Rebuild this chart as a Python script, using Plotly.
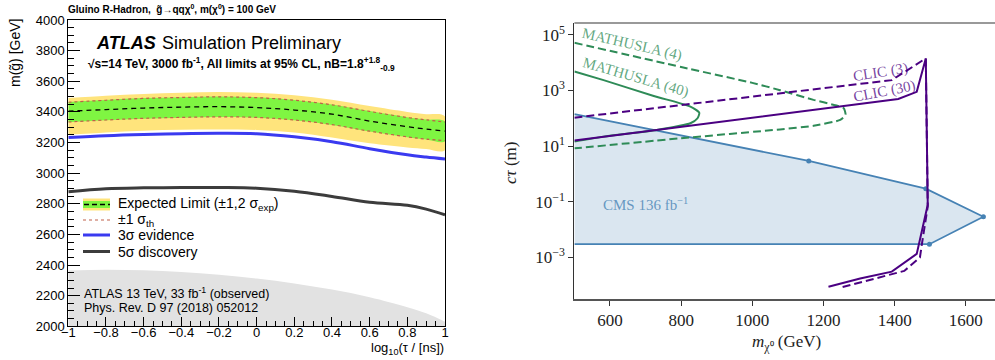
import plotly.graph_objects as go

W, H = 995, 360
def fx(p): return p / W
def fy(p): return 1 - p / H

# ================= Left panel data (ATLAS gluino R-hadron) =================
log_tau = [-1.0, -0.8, -0.6, -0.4, -0.2, 0.0, 0.2, 0.4, 0.6, 0.8, 0.9, 1.0]
expected      = [3405, 3415, 3425, 3431, 3434, 3428, 3412, 3385, 3340, 3303, 3288, 3275]
exp_1s_up     = [3465, 3478, 3490, 3496, 3500, 3495, 3478, 3448, 3405, 3365, 3350, 3336]
exp_1s_down   = [3332, 3345, 3356, 3362, 3366, 3362, 3345, 3315, 3272, 3235, 3220, 3208]
exp_2s_up     = [3490, 3505, 3517, 3525, 3530, 3525, 3508, 3480, 3438, 3400, 3385, 3370]
exp_2s_down   = [3250, 3265, 3277, 3283, 3285, 3282, 3265, 3232, 3195, 3168, 3158, 3150]
theory_up     = [3463, 3476, 3488, 3494, 3498, 3493, 3476, 3446, 3403, 3363, 3348, 3334]
theory_down   = [3334, 3347, 3358, 3364, 3368, 3364, 3347, 3317, 3274, 3237, 3222, 3212]
evidence_3s   = [3232, 3245, 3253, 3258, 3260, 3257, 3237, 3205, 3160, 3120, 3105, 3092]
discovery_5s  = [2878, 2898, 2904, 2906, 2906, 2902, 2882, 2848, 2810, 2790, 2765, 2728]
observed_13   = [2365, 2370, 2366, 2355, 2337, 2312, 2280, 2240, 2190, 2125, 2085, 2030]

left_xticks = [-1, -0.8, -0.6, -0.4, -0.2, 0, 0.2, 0.4, 0.6, 0.8, 1]
left_yticks = [2000, 2200, 2400, 2600, 2800, 3000, 3200, 3400, 3600, 3800, 4000]

# ================= Right panel data (ctau vs mass) =================
cms_mass = [500, 1158.6, 1487.5, 1649.4, 1497.7, 500]
cms_ctau = [141, 2.92, 0.295, 0.0292, 0.0030, 0.0030]
cms_pts_mass = [1158.6, 1487.5, 1649.4, 1497.7]
cms_pts_ctau = [2.92, 0.295, 0.0292, 0.0030]

clic3_mass = [500, 1392, 1487.5, 1493, 1478, 1471, 1427, 1303, 1251]
clic3_ctau = [105, 2340, 14100, 0.068, 0.0040, 0.0010, 0.00033, 0.000126, 0.000085]

clic30_mass = [500, 1410, 1462, 1487.5, 1493, 1479, 1462, 1392, 1303, 1214]
clic30_ctau = [15.8, 490, 890, 14100, 0.078, 0.0129, 0.00135, 0.00031, 0.000175, 0.000089]

math4_mass = [500, 800, 1000, 1078, 1172, 1230, 1257, 1262, 1247, 1172, 1078, 800, 500]
math4_ctau = [51300, 6920, 1860, 1020, 457, 300, 229, 132, 87, 53.7, 39.8, 19.1, 8.3]

math40_mass = [500, 582, 723, 826, 851, 846, 826, 731, 582, 500]
math40_ctau = [4790, 2340, 631, 263, 158, 100, 66, 38, 21.9, 14.5]

right_xticks = [600, 800, 1000, 1200, 1400, 1600]
right_yticks = [1e-3, 1e-1, 1e1, 1e3, 1e5]
right_yticklabels = ["10<sup>−3</sup>", "10<sup>−1</sup>", "10<sup>1</sup>", "10<sup>3</sup>", "10<sup>5</sup>"]

SANS = "Liberation Sans, Arial, sans-serif"
SERIF = "Liberation Serif, Times New Roman, serif"

fig = go.Figure()

# ---------- Left panel traces ----------
fig.add_trace(go.Scatter(x=log_tau, y=observed_13, mode="lines", line=dict(color="rgba(0,0,0,0)", shape="spline"),
                         fill="tozeroy", fillcolor="#e2e2e2", xaxis="x", yaxis="y", showlegend=False))
fig.add_trace(go.Scatter(x=log_tau + log_tau[::-1], y=exp_2s_up + exp_2s_down[::-1], mode="lines",
                         line=dict(color="rgba(0,0,0,0)", width=0, shape="spline"), fill="toself",
                         fillcolor="#ffe47c", xaxis="x", yaxis="y", showlegend=False))
fig.add_trace(go.Scatter(x=log_tau + log_tau[::-1], y=exp_1s_up + exp_1s_down[::-1], mode="lines",
                         line=dict(color="rgba(0,0,0,0)", width=0, shape="spline"), fill="toself",
                         fillcolor="#7ff542", xaxis="x", yaxis="y", showlegend=False))
for th in (theory_up, theory_down):
    fig.add_trace(go.Scatter(x=log_tau, y=th, mode="lines",
                             line=dict(color="#c0604a", width=1.2, dash="dot", shape="spline"),
                             xaxis="x", yaxis="y", showlegend=False))
fig.add_trace(go.Scatter(x=log_tau, y=expected, mode="lines",
                         line=dict(color="black", width=1.3, dash="5px,4px", shape="spline"),
                         xaxis="x", yaxis="y", showlegend=False))
fig.add_trace(go.Scatter(x=log_tau, y=evidence_3s, mode="lines",
                         line=dict(color="#3a3af0", width=3, shape="spline"),
                         xaxis="x", yaxis="y", showlegend=False))
fig.add_trace(go.Scatter(x=log_tau, y=discovery_5s, mode="lines",
                         line=dict(color="#3c3c3c", width=3, shape="spline"),
                         xaxis="x", yaxis="y", showlegend=False))

# ---------- Right panel traces ----------
fig.add_trace(go.Scatter(x=cms_mass, y=cms_ctau, mode="lines", fill="toself",
                         fillcolor="rgba(70,130,180,0.2)", line=dict(color="#4682b4", width=1.8),
                         xaxis="x2", yaxis="y2", showlegend=False))
fig.add_trace(go.Scatter(x=cms_pts_mass, y=cms_pts_ctau, mode="markers",
                         marker=dict(color="#4682b4", size=5),
                         xaxis="x2", yaxis="y2", showlegend=False))
fig.add_trace(go.Scatter(x=math4_mass, y=math4_ctau, mode="lines",
                         line=dict(color="#2e8b57", width=2, dash="8px,4px", shape="spline", smoothing=0.5),
                         xaxis="x2", yaxis="y2", showlegend=False))
fig.add_trace(go.Scatter(x=math40_mass, y=math40_ctau, mode="lines",
                         line=dict(color="#2e8b57", width=2, shape="spline", smoothing=0.6),
                         xaxis="x2", yaxis="y2", showlegend=False))
fig.add_trace(go.Scatter(x=clic3_mass, y=clic3_ctau, mode="lines",
                         line=dict(color="#4b0082", width=2, dash="8px,4px"),
                         xaxis="x2", yaxis="y2", showlegend=False))
fig.add_trace(go.Scatter(x=clic30_mass, y=clic30_ctau, mode="lines",
                         line=dict(color="#4b0082", width=2),
                         xaxis="x2", yaxis="y2", showlegend=False))

# ---------- Layout ----------
left_dom_x = [fx(68.3), fx(445)]
left_dom_y = [fy(326.3), fy(20)]
right_dom_x = [fx(574.4), 1.0]
right_dom_y = [fy(299), fy(23)]

fig.update_layout(
    width=W, height=H, margin=dict(l=0, r=0, t=0, b=0, autoexpand=False),
    paper_bgcolor="white", plot_bgcolor="white", showlegend=False,
    xaxis=dict(domain=left_dom_x, range=[-1, 1], anchor="y", tickvals=left_xticks, automargin=False,
               ticks="inside", ticklen=9, tickcolor="black", showgrid=False, zeroline=False,
               showline=True, linecolor="black", linewidth=1, mirror=True, ticklabelstandoff=-6,
               tickfont=dict(family=SANS, size=13, color="black"),
               minor=dict(dtick=0.05, tick0=-1, ticks="inside", ticklen=5, tickcolor="black", showgrid=False)),
    yaxis=dict(domain=left_dom_y, range=[2000, 4000], anchor="x", tickvals=left_yticks, automargin=False,
               ticks="inside", ticklen=12, tickcolor="black", showgrid=False, zeroline=False,
               showline=True, linecolor="black", linewidth=1, mirror=True,
               tickfont=dict(family=SANS, size=13, color="black"),
               minor=dict(dtick=50, tick0=2000, ticks="inside", ticklen=6, tickcolor="black", showgrid=False)),
    xaxis2=dict(domain=right_dom_x, range=[500, 1682], anchor="y2", tickvals=right_xticks, automargin=False,
                ticks="outside", ticklen=5, tickcolor="#333", showgrid=False, zeroline=False,
                showline=True, linecolor="#555", linewidth=1.5,
                tickfont=dict(family=SERIF, size=17, color="#222")),
    yaxis2=dict(domain=right_dom_y, type="log", range=[-4.49, 5.42], anchor="x2", automargin=False,
                tickvals=right_yticks, ticktext=right_yticklabels,
                ticks="outside", ticklen=5, tickcolor="#333", showgrid=False, zeroline=False,
                showline=True, linecolor="#333", linewidth=1.2,
                tickfont=dict(family=SERIF, size=17, color="#222")),
)

shapes = []
# top spine of right panel
shapes.append(dict(type="line", xref="x2 domain", yref="y2 domain", x0=0, x1=1, y0=1, y1=1,
                   line=dict(color="#777", width=1.5)))
# custom legend symbols (left panel)
shapes.append(dict(type="rect", xref="paper", yref="paper", x0=fx(83), x1=fx(110), y0=fy(210.5), y1=fy(198.5),
                   fillcolor="#ffe47c", line=dict(width=0)))
shapes.append(dict(type="rect", xref="paper", yref="paper", x0=fx(83), x1=fx(110), y0=fy(208), y1=fy(201),
                   fillcolor="#7ff542", line=dict(width=0)))
shapes.append(dict(type="line", xref="paper", yref="paper", x0=fx(84), x1=fx(110), y0=fy(204.5), y1=fy(204.5),
                   line=dict(color="black", width=1.3, dash="5px,3px")))
shapes.append(dict(type="line", xref="paper", yref="paper", x0=fx(83), x1=fx(110), y0=fy(220), y1=fy(220),
                   line=dict(color="#c0604a", width=1.2, dash="dot")))
shapes.append(dict(type="line", xref="paper", yref="paper", x0=fx(83), x1=fx(110), y0=fy(235), y1=fy(235),
                   line=dict(color="#3a3af0", width=3)))
shapes.append(dict(type="line", xref="paper", yref="paper", x0=fx(83), x1=fx(110), y0=fy(251.5), y1=fy(251.5),
                   line=dict(color="#3c3c3c", width=3)))
fig.update_layout(shapes=shapes)

ann = []
def A(text, x, y, size, family=SANS, color="black", xanchor="left", yanchor="middle", angle=0):
    ann.append(dict(text=text, x=fx(x), y=fy(y), xref="paper", yref="paper", showarrow=False,
                    xanchor=xanchor, yanchor=yanchor, textangle=angle,
                    font=dict(family=family, size=size, color=color)))

# Left panel texts
A("<b>Gluino R-Hadron,  g\u0303→qqχ<sup>0</sup>, m(χ<sup>0</sup>) = 100 GeV</b>", 66, 9, 10)
A("<b><i>ATLAS</i></b>", 94, 43, 18)
A("Simulation Preliminary", 160, 43, 18)
A("<b>√s=14 TeV, 3000 fb<sup>-1</sup>, All limits at 95% CL, nB=1.8<sup>+1.8</sup><sub>-0.9</sub></b>", 86, 64, 12)
A("Expected Limit (±1,2 σ<sub>exp</sub>)", 116, 204, 14)
A("±1 σ<sub>th</sub>", 116, 220, 14)
A("3σ evidence", 116, 235, 14)
A("5σ discovery", 116, 251.5, 14)
A("ATLAS 13 TeV, 33 fb<sup>-1</sup> (observed)", 82, 293, 12.5)
A("Phys. Rev. D 97 (2018) 052012", 82, 308, 12.5)
A("log<sub>10</sub>(τ / [ns])", 446, 348, 13, xanchor="right")
A("m(g\u0303) [GeV]", 15, 17, 14, xanchor="center", yanchor="top", angle=-90)

# Right panel texts
A("MATHUSLA (4)", 632, 44, 15, family=SERIF, color="rgba(46,139,87,0.75)", xanchor="center", angle=13)
A("MATHUSLA (40)", 636, 77, 15, family=SERIF, color="rgba(46,139,87,0.75)", xanchor="center", angle=16)
A("CLIC (3)", 880, 73, 15, family=SERIF, color="rgba(75,0,130,0.75)", xanchor="center", angle=-9)
A("CLIC (30)", 884, 91, 15, family=SERIF, color="rgba(75,0,130,0.75)", xanchor="center", angle=-11)
A("CMS 136 fb<sup>−1</sup>", 645, 204, 15, family=SERIF, color="rgba(70,130,180,0.8)", xanchor="center")
A("<i>cτ</i> (m)", 511, 163, 17, family=SERIF, color="#222", xanchor="center", angle=-90)
A("<i>m</i><sub>χ⁰</sub> (GeV)", 786, 343, 17, family=SERIF, color="#222", xanchor="center")

fig.update_layout(annotations=ann)

fig.write_html("out.html")
